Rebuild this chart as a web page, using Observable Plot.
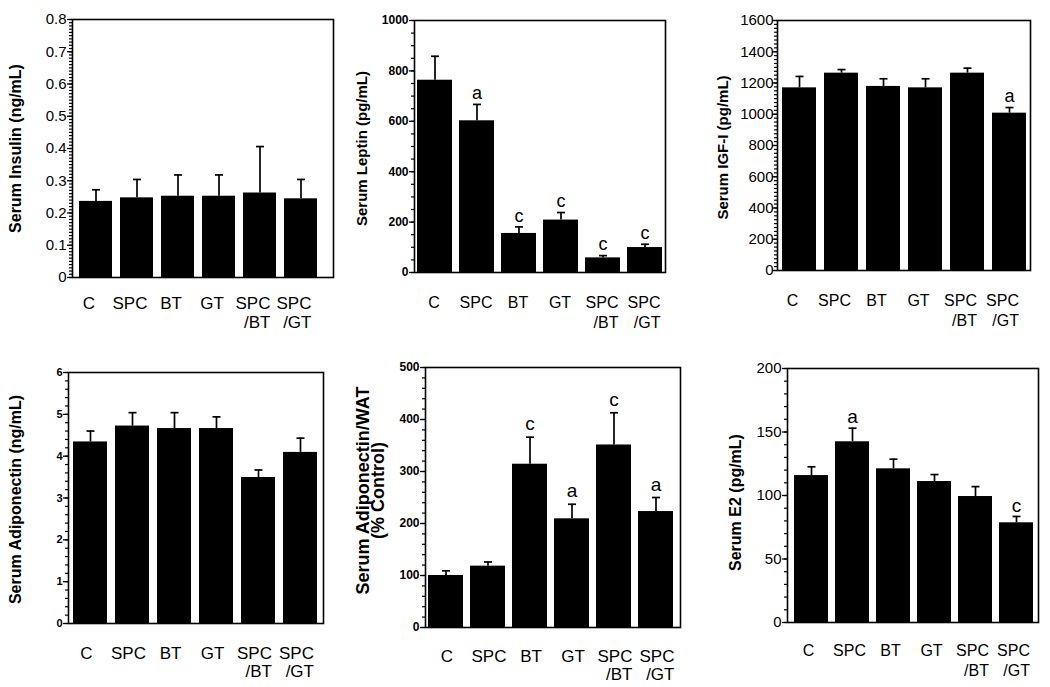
<!DOCTYPE html>
<html><head><meta charset="utf-8">
<script src="https://cdn.jsdelivr.net/npm/d3@7"></script>
<script src="https://cdn.jsdelivr.net/npm/@observablehq/plot@0.6"></script>
<style>
html,body{margin:0;padding:0;background:#fff;}
#fig{position:relative;width:1050px;height:687px;background:#fff;overflow:hidden;}
#fig > div{position:absolute;}
</style></head><body><div id="fig"></div>
<script>
const groups = ["C", "SPC", "BT", "GT", "SPC/BT", "SPC/GT"];

const insulinMean = [0.236, 0.247, 0.252, 0.252, 0.262, 0.244];
const insulinSem  = [0.036, 0.057, 0.066, 0.066, 0.144, 0.060];
const insulinSig  = ["", "", "", "", "", ""];
const insulinTicks = [0, 0.1, 0.2, 0.3, 0.4, 0.5, 0.6, 0.7, 0.8];

const leptinMean = [763, 602, 155, 208, 58, 99];
const leptinSem  = [95, 65, 26, 30, 9, 13];
const leptinSig  = ["", "a", "c", "c", "c", "c"];
const leptinTicks = [0, 200, 400, 600, 800, 1000];

const igfMean = [1169, 1263, 1178, 1169, 1263, 1007];
const igfSem  = [73, 23, 49, 58, 32, 36];
const igfSig  = ["", "", "", "", "", "a"];
const igfTicks = [0, 200, 400, 600, 800, 1000, 1200, 1400, 1600];

const adipoMean = [4.34, 4.72, 4.66, 4.66, 3.49, 4.09];
const adipoSem  = [0.26, 0.32, 0.38, 0.28, 0.18, 0.34];
const adipoSig  = ["", "", "", "", "", ""];
const adipoTicks = [0, 1, 2, 3, 4, 5, 6];

const watMean = [100, 118, 314, 209, 351, 223];
const watSem  = [9, 8, 52, 28, 62, 27];
const watSig  = ["", "", "c", "a", "c", "a"];
const watTicks = [0, 100, 200, 300, 400, 500];

const e2Mean = [115.7, 142.3, 121, 111, 99.2, 78.5];
const e2Sem  = [6.9, 10.7, 7.6, 5.5, 7.8, 5.0];
const e2Sig  = ["", "a", "", "", "", "c"];
const e2Ticks = [0, 50, 100, 150, 200];

const capSymbol = {draw(ctx, size) { const r = Math.sqrt(size / Math.PI); ctx.moveTo(-r, 0); ctx.lineTo(r, 0); }};
const FONT = "'Liberation Sans', Arial, Helvetica, sans-serif";

function panel(cfg) {
  const data = groups.map((g, i) => ({group: g, mean: cfg.mean[i], sem: cfg.sem[i], sig: cfg.sig[i]}));
  const seconds = data.filter(d => d.group.includes("/"));
  const fs = cfg.xFont;
  const pad = cfg.xOffset - 0.35 * fs;
  const chart = Plot.plot({
    width: 350, height: cfg.height,
    marginLeft: cfg.ml, marginRight: cfg.mr, marginTop: cfg.mt, marginBottom: cfg.mb,
    style: {fontFamily: FONT, color: "black", background: "white", overflow: "visible"},
    x: {domain: groups, paddingInner: cfg.pi, paddingOuter: cfg.po, align: cfg.align},
    y: {domain: [0, cfg.ticks[cfg.ticks.length - 1]]},
    marks: [
      Plot.barY(data, {x: "group", y: "mean", fill: "black"}),
      Plot.ruleX(data, {x: "group", y1: "mean", y2: d => d.mean + d.sem, stroke: "black", strokeWidth: 1.7}),
      Plot.dot(data, {x: "group", y: d => d.mean + d.sem, symbol: capSymbol, r: 4, stroke: "black", strokeWidth: 1.7, fill: "none"}),
      Plot.text(data.filter(d => d.sig), {x: "group", y: d => d.mean + d.sem, text: "sig", dy: -(cfg.sigGap + 1), fontSize: cfg.sigFont, lineAnchor: "middle", fill: "black"}),
      Plot.frame({stroke: "black", strokeWidth: 1.6}),
      Plot.axisY(cfg.minors, {tickSize: 3, fill: "none", stroke: "black", strokeWidth: 1.2, label: null}),
      Plot.axisY(cfg.ticks, {tickSize: 5, tickPadding: cfg.yPad, tickFormat: cfg.fmt, fontSize: cfg.yFont, fontWeight: cfg.yWeight, stroke: "black", strokeWidth: 1.3, fill: "black", label: null}),
      Plot.axisX({tickSize: 0, tickPadding: pad, tickFormat: g => g.split("/")[0], fontSize: fs, dx: cfg.xDx, fill: "black", label: null}),
      Plot.text(seconds, {x: "group", frameAnchor: "bottom", text: d => "/" + d.group.split("/")[1], textAnchor: "end", dx: cfg.xDx + 1.028 * fs, dy: cfg.xOffset + cfg.xLine, fontSize: fs, lineAnchor: "middle", fill: "black"}),
      Plot.text([cfg.title], {frameAnchor: "left", textAnchor: "middle", lineAnchor: "middle", text: d => d, rotate: -90, dx: cfg.tDx, dy: cfg.tDy, fontSize: cfg.tFont, fontWeight: "bold", lineHeight: cfg.tLine || 1, fill: "black"})
    ]
  });
  const div = document.createElement("div");
  div.style.left = cfg.left + "px";
  div.style.top = cfg.top + "px";
  div.appendChild(chart);
  document.getElementById("fig").appendChild(div);
}

const fmtInt = d => String(d);

panel({left: 0, top: 0, height: 335, ml: 72, mr: 17, mt: 19, mb: 58,
  mean: insulinMean, sem: insulinSem, sig: insulinSig, ticks: insulinTicks, minors: d3.range(0, 0.8001, 0.01),
  fmt: d => d === 0 ? "0" : d.toFixed(1), yFont: 15, yWeight: "normal", yPad: 1,
  pi: 0.185, po: 0.22, align: 0.29,
  xFont: 17, xOffset: 25, xDx: -7, xLine: 20,
  title: "Serum Insulin (ng/mL)", tFont: 16, tDx: -57, tDy: 0,
  sigGap: 10, sigFont: 18});

panel({left: 350, top: 0, height: 335, ml: 64, mr: 35, mt: 20, mb: 63,
  mean: leptinMean, sem: leptinSem, sig: leptinSig, ticks: leptinTicks, minors: d3.range(0, 1001, 50),
  fmt: fmtInt, yFont: 12, yWeight: "bold", yPad: 1,
  pi: 0.16, po: 0.04, align: 0.5,
  xFont: 16, xOffset: 30, xDx: -1, xLine: 20,
  title: "Serum Leptin (pg/mL)", tFont: 15, tDx: -52, tDy: 2,
  sigGap: 10, sigFont: 18});

panel({left: 700, top: 0, height: 335, ml: 77, mr: 20, mt: 20, mb: 65,
  mean: igfMean, sem: igfSem, sig: igfSig, ticks: igfTicks, minors: d3.range(0, 1601, 25),
  fmt: fmtInt, yFont: 15, yWeight: "normal", yPad: -1,
  pi: 0.18, po: 0.05, align: 0.6,
  xFont: 16, xOffset: 30, xDx: -7, xLine: 20,
  title: "Serum IGF-I (pg/mL)", tFont: 15, tDx: -54, tDy: 2,
  sigGap: 10, sigFont: 18});

panel({left: 0, top: 340, height: 347, ml: 68, mr: 27, mt: 32, mb: 64,
  mean: adipoMean, sem: adipoSem, sig: adipoSig, ticks: adipoTicks, minors: d3.range(0, 6.001, 0.2),
  fmt: fmtInt, yFont: 11, yWeight: "bold", yPad: 1,
  pi: 0.18, po: 0.11, align: 0.47,
  xFont: 17, xOffset: 29, xDx: -4, xLine: 19,
  title: "Serum Adiponectin (ng/mL)", tFont: 16, tDx: -53, tDy: 1.5,
  sigGap: 10, sigFont: 18});

panel({left: 350, top: 340, height: 347, ml: 75, mr: 20, mt: 27, mb: 60,
  mean: watMean, sem: watSem, sig: watSig, ticks: watTicks, minors: d3.range(0, 501, 20),
  fmt: fmtInt, yFont: 12, yWeight: "bold", yPad: 1,
  pi: 0.175, po: 0.094, align: 0.3,
  xFont: 17, xOffset: 28, xDx: 1, xLine: 19,
  title: "Serum Adiponectin/WAT\n(% Control)", tFont: 18, tLine: 0.78, tDx: -53.5, tDy: -7,
  sigGap: 12, sigFont: 19});

panel({left: 700, top: 340, height: 347, ml: 87, mr: 12, mt: 28, mb: 65,
  mean: e2Mean, sem: e2Sem, sig: e2Sig, ticks: e2Ticks, minors: d3.range(0, 201, 10),
  fmt: fmtInt, yFont: 15, yWeight: "normal", yPad: 1,
  pi: 0.17, po: 0.11, align: 0.57,
  xFont: 16, xOffset: 28, xDx: -3, xLine: 20,
  title: "Serum E2 (pg/mL)", tFont: 16, tDx: -52, tDy: 7,
  sigGap: 10, sigFont: 19});
</script>
</body></html>
